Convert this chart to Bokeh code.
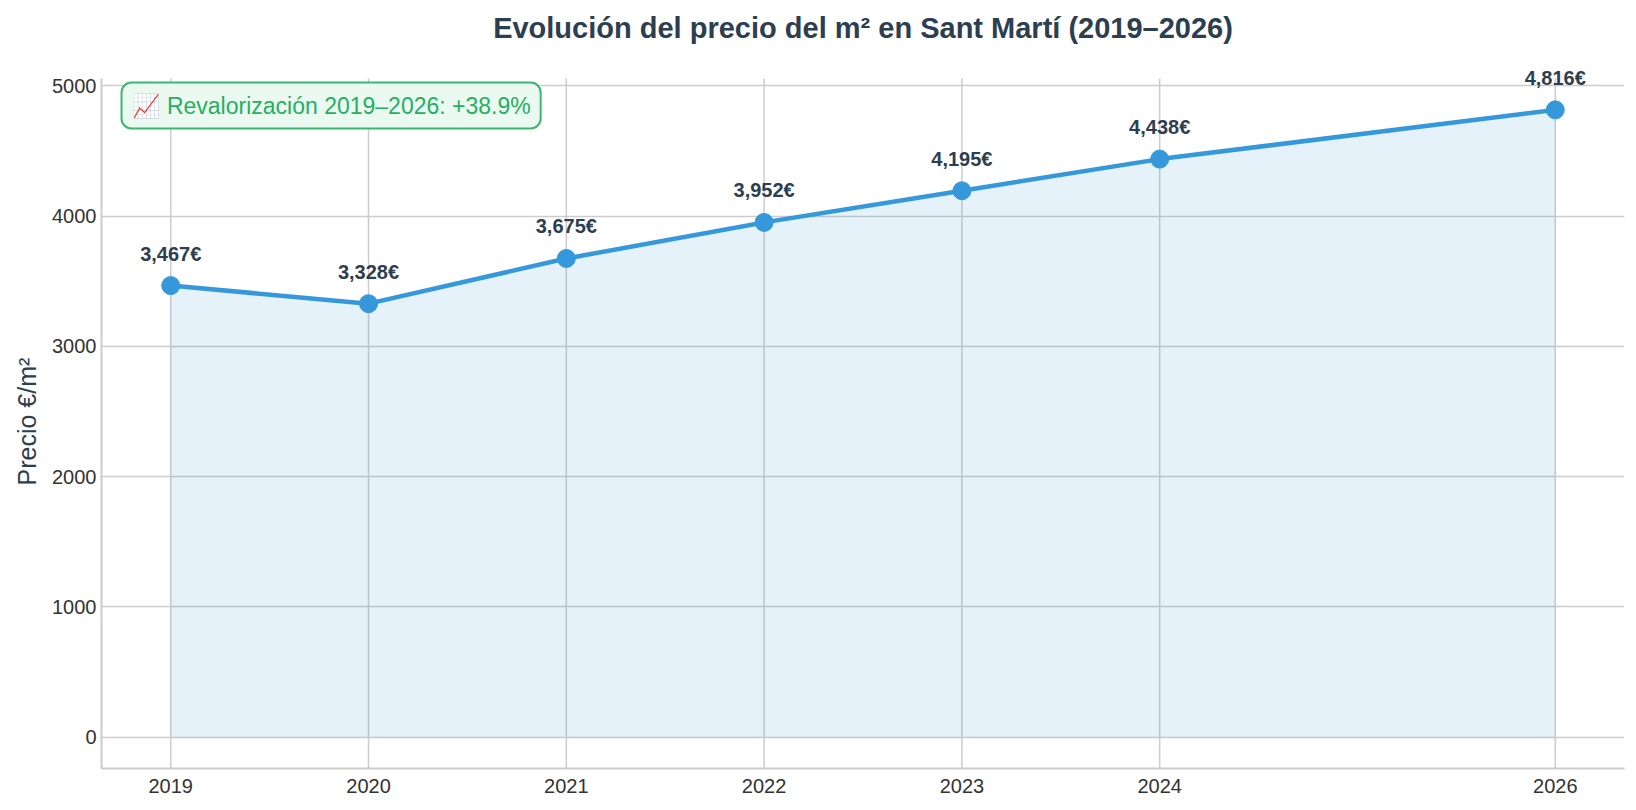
from bokeh.plotting import figure
from bokeh.models import ColumnDataSource, FixedTicker, Label, Range1d, Title
from bokeh.embed import file_html
from bokeh.resources import INLINE

years = [2019, 2020, 2021, 2022, 2023, 2024, 2026]
prices = [3467, 3328, 3675, 3952, 4195, 4438, 4816]
price_labels = ["3,467€", "3,328€", "3,675€", "3,952€", "4,195€", "4,438€", "4,816€"]
y_ticks = [0, 1000, 2000, 3000, 4000, 5000]
title_text = "Evolución del precio del m² en Sant Martí (2019–2026)"
y_label = "Precio €/m²"
note_text = "📈 Revalorización 2019–2026: +38.9%"

# axis limits of the plotted area (matplotlib-like 5% margins)
X_START, X_END = 2018.65, 2026.35
Y_START, Y_END = -240.8, 5056.8
# visible range extends above the axes so labels and title are not clipped
Y_VIEW_END = 5655.7

FONT = "Liberation Sans"
BLUE = "#3498db"
DARK = "#2c3e50"
GRID = "#cccccc"

src = ColumnDataSource(dict(x=years, y=prices, zero=[0] * len(years)))
grid_src = ColumnDataSource(dict(x=years, y0=[Y_START] * len(years), y1=[Y_END] * len(years)))

p = figure(width=1636, height=808, output_backend="svg", toolbar_location=None,
           x_range=Range1d(X_START, X_END), y_range=Range1d(Y_START, Y_VIEW_END),
           min_border_left=101, min_border_right=12, min_border_top=0, min_border_bottom=40)

p.outline_line_color = None
p.background_fill_color = "white"
p.border_fill_color = "white"

for ax in (p.xaxis[0], p.yaxis[0]):
    ax.axis_line_color = GRID
    ax.axis_line_width = 2
    ax.major_tick_line_color = None
    ax.minor_tick_line_color = None
    ax.major_tick_out = 0
    ax.major_tick_in = 0
    ax.minor_tick_out = 0
    ax.minor_tick_in = 0
    ax.major_label_text_font = FONT
    ax.major_label_text_font_size = "20px"
    ax.major_label_text_color = "#333333"

p.yaxis.bounds = (Y_START, Y_END)
p.xaxis.ticker = FixedTicker(ticks=years)
p.yaxis.ticker = FixedTicker(ticks=y_ticks)
p.xaxis.major_label_standoff = 10
p.yaxis.major_label_standoff = 5

# y-axis title, centred on the axes area (not on the extended view)
p.add_layout(Title(text=y_label, align="left", offset=283, standoff=18,
                   text_font=FONT, text_font_size="25px", text_font_style="normal",
                   text_color=DARK), "left")

p.xgrid.visible = False
p.ygrid.grid_line_color = GRID
p.ygrid.grid_line_width = 1.5

# vertical grid lines limited to the axes area
p.segment(x0="x", y0="y0", x1="x", y1="y1", source=grid_src, line_color=GRID, line_width=1.5)

p.varea(x="x", y1="zero", y2="y", source=src, fill_color=BLUE, fill_alpha=0.13)
p.line(x="x", y="y", source=src, line_color=BLUE, line_width=4.5)
p.scatter(x="x", y="y", source=src, size=18, fill_color=BLUE, line_color=BLUE)

for xv, yv, lab in zip(years, prices, price_labels):
    p.add_layout(Label(x=xv, y=yv, text=lab, y_offset=32, text_align="center",
                       text_baseline="middle", text_font=FONT, text_font_size="20px",
                       text_font_style="bold", text_color=DARK))

p.add_layout(Label(x=(X_START + X_END) / 2, y=Y_END, y_offset=51, text=title_text,
                   text_align="center", text_baseline="middle", text_font=FONT,
                   text_font_size="29px", text_font_style="bold", text_color=DARK))

note = Label(x=X_START, y=Y_END, x_offset=20, y_offset=-4, text=note_text,
             text_font=FONT, text_font_size="23px", text_color="#27ae60",
             text_align="left", text_baseline="top",
             background_fill_color="#eafaf1", background_fill_alpha=1.0,
             border_line_color="#27ae60", border_line_width=2, border_line_alpha=0.9,
             padding=10, border_radius=10)
p.add_layout(note)

open("out.html", "w").write(file_html(p, INLINE))
